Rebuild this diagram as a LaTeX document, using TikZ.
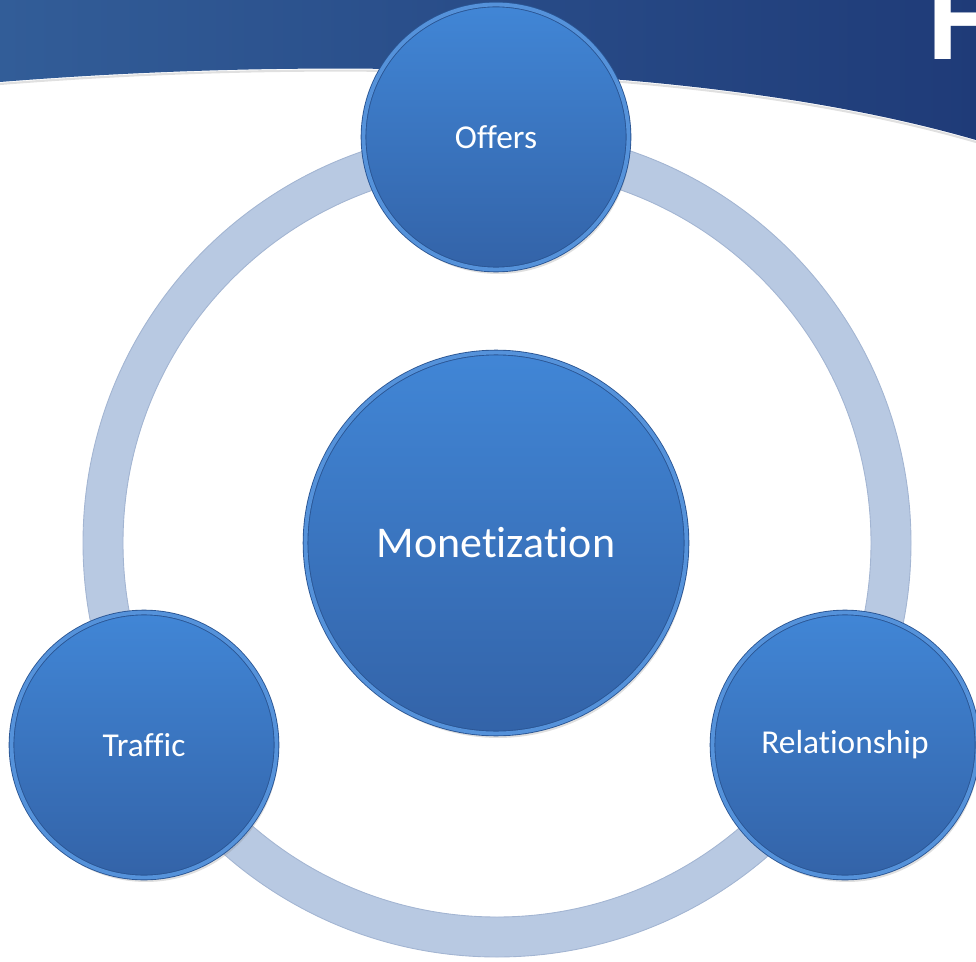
\documentclass[tikz,border=0pt]{standalone}
\usepackage{fontspec}
\setmainfont{Carlito}[Ligatures=NoCommon]
\newfontfamily\headfont{Liberation Sans}
\usetikzlibrary{shadows}
\definecolor{headleft}{HTML}{325D98}
\definecolor{headright}{HTML}{1F3B78}
\definecolor{ringfill}{HTML}{B8C9E2}
\definecolor{ringedge}{HTML}{A3B5D2}
\definecolor{bubbletop}{HTML}{4186D6}
\definecolor{bubblebot}{HTML}{3363A8}
\definecolor{bubbleedge}{HTML}{2A5593}
\definecolor{bubblerim}{HTML}{5592DA}
\tikzset{
  bubble/.style={circle, draw=bubbleedge, line width=0.5pt, double=bubblerim,
    double distance=2.2pt, top color=bubbletop, bottom color=bubblebot,
    text=white, inner sep=0pt,
    drop shadow={opacity=0.25, shadow xshift=0.04cm, shadow yshift=-0.09cm}},
  small bubble/.style={bubble, minimum size=5.3cm, font=\fontsize{19}{22}\selectfont},
  big bubble/.style={bubble, minimum size=7.62cm, font=\fontsize{25}{30}\selectfont},
  headtitle/.style={text=white, inner sep=0pt, font=\headfont\bfseries\fontsize{64}{70}\selectfont}
}
\begin{document}
\begin{tikzpicture}[x=0.02cm,y=-0.02cm]
\useasboundingbox (0,0) rectangle (976,962);
\clip (0,0) rectangle (976,962);

% banner
\shade[left color=headleft, right color=headright] (0,0) -- (976,0) -- (976,140)
  .. controls (700,60) and (300,58) .. (0,82) -- cycle;
\draw[black!30, line width=1.2pt, opacity=.4] (0,84) .. controls (300,60) and (700,62) .. (976,142);
\node[headtitle, anchor=base west] (title) at (927,60) {H};

% ring
\filldraw[ringfill, draw=ringedge, line width=.5pt, even odd rule]
  (497,543) circle (414) (497,543) circle (374);

\node[big bubble] (money) at (496,543) {Monetization};
\node[small bubble] (offers) at (496,137) {Offers};
\node[small bubble] (traffic) at (144,745) {Traffic};
\node[small bubble] (relation) at (845,745) {Relationship};

\end{tikzpicture}
\end{document}
